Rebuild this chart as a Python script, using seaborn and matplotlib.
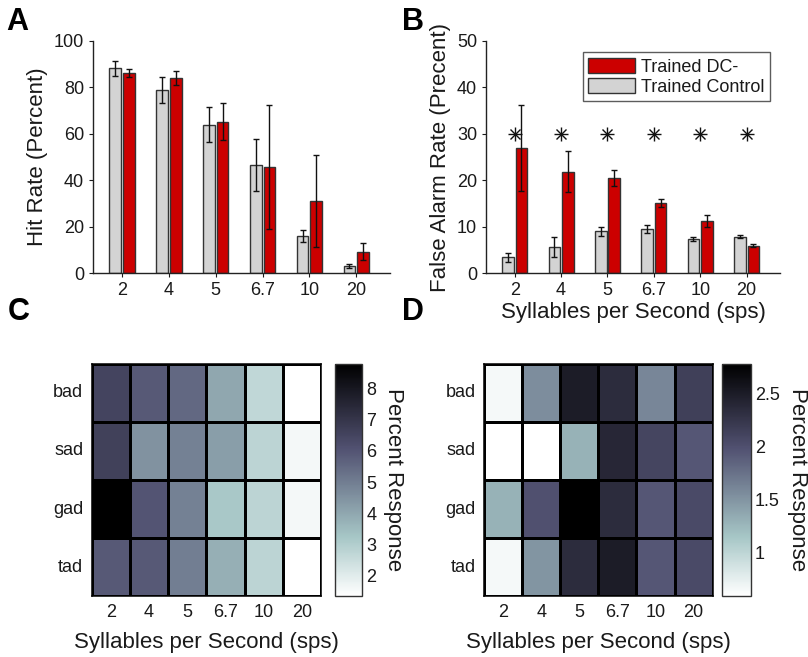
import numpy as np
import pandas as pd
import matplotlib
matplotlib.use("Agg")
import matplotlib.pyplot as plt
from matplotlib.patches import Patch
from matplotlib.ticker import FormatStrFormatter
import seaborn as sns

# data
speeds = ["2", "4", "5", "6.7", "10", "20"]
syllables = ["bad", "sad", "gad", "tad"]
groups = ["Trained Control", "Trained DC-"]

hit_control = [88.1, 78.8, 63.8, 46.6, 16.2, 3.2]
hit_control_err = [3.2, 5.5, 7.5, 11.3, 2.6, 0.8]
hit_dc = [86.2, 84.0, 65.2, 45.8, 31.2, 9.3]
hit_dc_err = [1.8, 3.2, 7.9, 26.6, 19.8, 3.6]

fa_control = [3.4, 5.7, 9.0, 9.5, 7.4, 7.9]
fa_control_err = [1.0, 2.1, 1.0, 0.8, 0.35, 0.3]
fa_dc = [27.0, 21.8, 20.5, 15.2, 11.3, 5.9]
fa_dc_err = [9.2, 4.4, 1.8, 0.85, 1.25, 0.3]
sig_y = [30, 30, 30, 30, 30, 30]

# percent response, rows = syllables, cols = speeds
resp_control = [
    [6.5, 5.9, 5.5, 4.0, 2.7, 1.36],
    [6.6, 4.5, 4.9, 4.2, 2.8, 1.6],
    [8.77, 6.0, 4.9, 3.2, 2.8, 1.6],
    [5.9, 5.9, 5.0, 3.8, 2.8, 1.36],
]
resp_dc = [
    [0.65, 1.55, 2.5, 2.35, 1.6, 2.15],
    [0.59, 0.59, 1.3, 2.4, 2.1, 1.95],
    [1.3, 2.0, 2.78, 2.35, 1.95, 2.05],
    [0.65, 1.5, 2.35, 2.5, 1.95, 2.05],
]
c_ticks = [2, 3, 4, 5, 6, 7, 8]
d_ticks = [1, 1.5, 2, 2.5]

colors = {"Trained Control": "#d3d3d3", "Trained DC-": "#cc0000"}

sns.set_style("white")
plt.rcParams["font.family"] = ["Liberation Sans", "DejaVu Sans"]
plt.rcParams["font.size"] = 13
plt.rcParams["text.color"] = "#1a1a1a"
plt.rcParams["axes.labelcolor"] = "#1a1a1a"

fig = plt.figure(figsize=(8.08, 6.57), dpi=100)


def bar_panel(ax, ctrl, ctrl_err, dc, dc_err, ymax, ylabel):
    df = pd.DataFrame({
        "speed": speeds * 2,
        "group": [groups[0]] * 6 + [groups[1]] * 6,
        "value": ctrl + dc,
    })
    sns.barplot(data=df, x="speed", y="value", hue="group", order=speeds,
                hue_order=groups, palette=colors, saturation=1, errorbar=None,
                width=0.58, gap=0.14, edgecolor="#333333", linewidth=1,
                legend=False, ax=ax)
    for cont, err in zip(ax.containers, [ctrl_err, dc_err]):
        xs = [p.get_x() + p.get_width() / 2 for p in cont.patches]
        ys = [p.get_height() for p in cont.patches]
        ax.errorbar(xs, ys, yerr=err, fmt="none", ecolor="#111111", elinewidth=1,
                    capsize=2.5, capthick=1, zorder=5)
    ax.set_ylim(0, ymax)
    ax.set_xlim(-0.62, 5.72)
    ax.set_ylabel(ylabel, fontsize=16)
    ax.set_xlabel("")
    sns.despine(ax=ax)
    for s in ["left", "bottom"]:
        ax.spines[s].set_color("#222222")
        ax.spines[s].set_linewidth(1)
    ax.tick_params(axis="both", direction="out", length=3, labelsize=13,
                   colors="#1a1a1a", left=True, bottom=True)


# A: hit rate
axA = fig.add_axes([0.1151, 0.584, 0.3676, 0.354])
bar_panel(axA, hit_control, hit_control_err, hit_dc, hit_dc_err, 100,
          "Hit Rate (Percent)")
axA.set_yticks([0, 20, 40, 60, 80, 100])

# B: false alarm rate
axB = fig.add_axes([0.6015, 0.584, 0.3638, 0.354])
bar_panel(axB, fa_control, fa_control_err, fa_dc, fa_dc_err, 50,
          "False Alarm Rate (Precent)")
axB.set_yticks([0, 10, 20, 30, 40, 50])
axB.set_xlabel("Syllables per Second (sps)", fontsize=16, labelpad=2)
axB.plot(range(len(speeds)), sig_y, ls="none", marker="+", ms=10, mew=1, color="#111111")
axB.plot(range(len(speeds)), sig_y, ls="none", marker="x", ms=7, mew=1, color="#111111")
handles = [Patch(facecolor=colors["Trained DC-"], edgecolor="#333333", label="Trained DC-"),
           Patch(facecolor=colors["Trained Control"], edgecolor="#333333", label="Trained Control")]
leg = axB.legend(handles=handles, loc="upper right", bbox_to_anchor=(0.965, 0.95),
                 fontsize=13, frameon=True, fancybox=False, borderpad=0.3,
                 handlelength=2.6, handleheight=0.9, labelspacing=0.15,
                 handletextpad=0.3, borderaxespad=0)
leg.get_frame().set_edgecolor("#333333")
leg.get_frame().set_linewidth(1)


def heat_panel(ax, cax, values, ticks):
    df = pd.DataFrame(values, index=syllables, columns=speeds)
    arr = np.array(values)
    sns.heatmap(df, cmap="bone_r", vmin=arr.min(), vmax=arr.max(), linewidths=0.8,
                linecolor="black", ax=ax, cbar_ax=cax,
                cbar_kws={"ticks": ticks})
    for s in ax.spines.values():
        s.set_visible(True)
        s.set_color("black")
        s.set_linewidth(1.1)
    ax.tick_params(axis="both", length=0, labelsize=13, pad=6, colors="#1a1a1a")
    ax.set_yticklabels(ax.get_yticklabels(), rotation=0)
    ax.set_xticklabels(ax.get_xticklabels(), rotation=0)
    ax.set_xlabel("Syllables per Second (sps)", fontsize=16, labelpad=8)
    ax.set_ylabel("")
    cbar = ax.collections[0].colorbar
    cbar.outline.set_visible(True)
    cbar.outline.set_edgecolor("#333333")
    cbar.outline.set_linewidth(1)
    cbar.ax.tick_params(direction="in", length=3, labelsize=13, pad=3, colors="#1a1a1a")
    cbar.ax.yaxis.set_major_formatter(FormatStrFormatter("%g"))
    cbar.set_label("Percent Response", rotation=270, fontsize=16, labelpad=20)


# C: control percent response
axC = fig.add_axes([0.1135, 0.0928, 0.2838, 0.3532])
caxC = fig.add_axes([0.4146, 0.0928, 0.0334, 0.3532])
heat_panel(axC, caxC, resp_control, c_ticks)

# D: DC- percent response
axD = fig.add_axes([0.599, 0.0928, 0.283, 0.3532])
caxD = fig.add_axes([0.8936, 0.0928, 0.0355, 0.3532])
heat_panel(axD, caxD, resp_dc, d_ticks)

for letter, x, y in [("A", 0.008, 0.99), ("B", 0.497, 0.99),
                     ("C", 0.01, 0.548), ("D", 0.497, 0.548)]:
    fig.text(x, y, letter, fontsize=22, fontweight="bold", va="top", ha="left",
             color="black")

fig.savefig("out.png", dpi=100)
